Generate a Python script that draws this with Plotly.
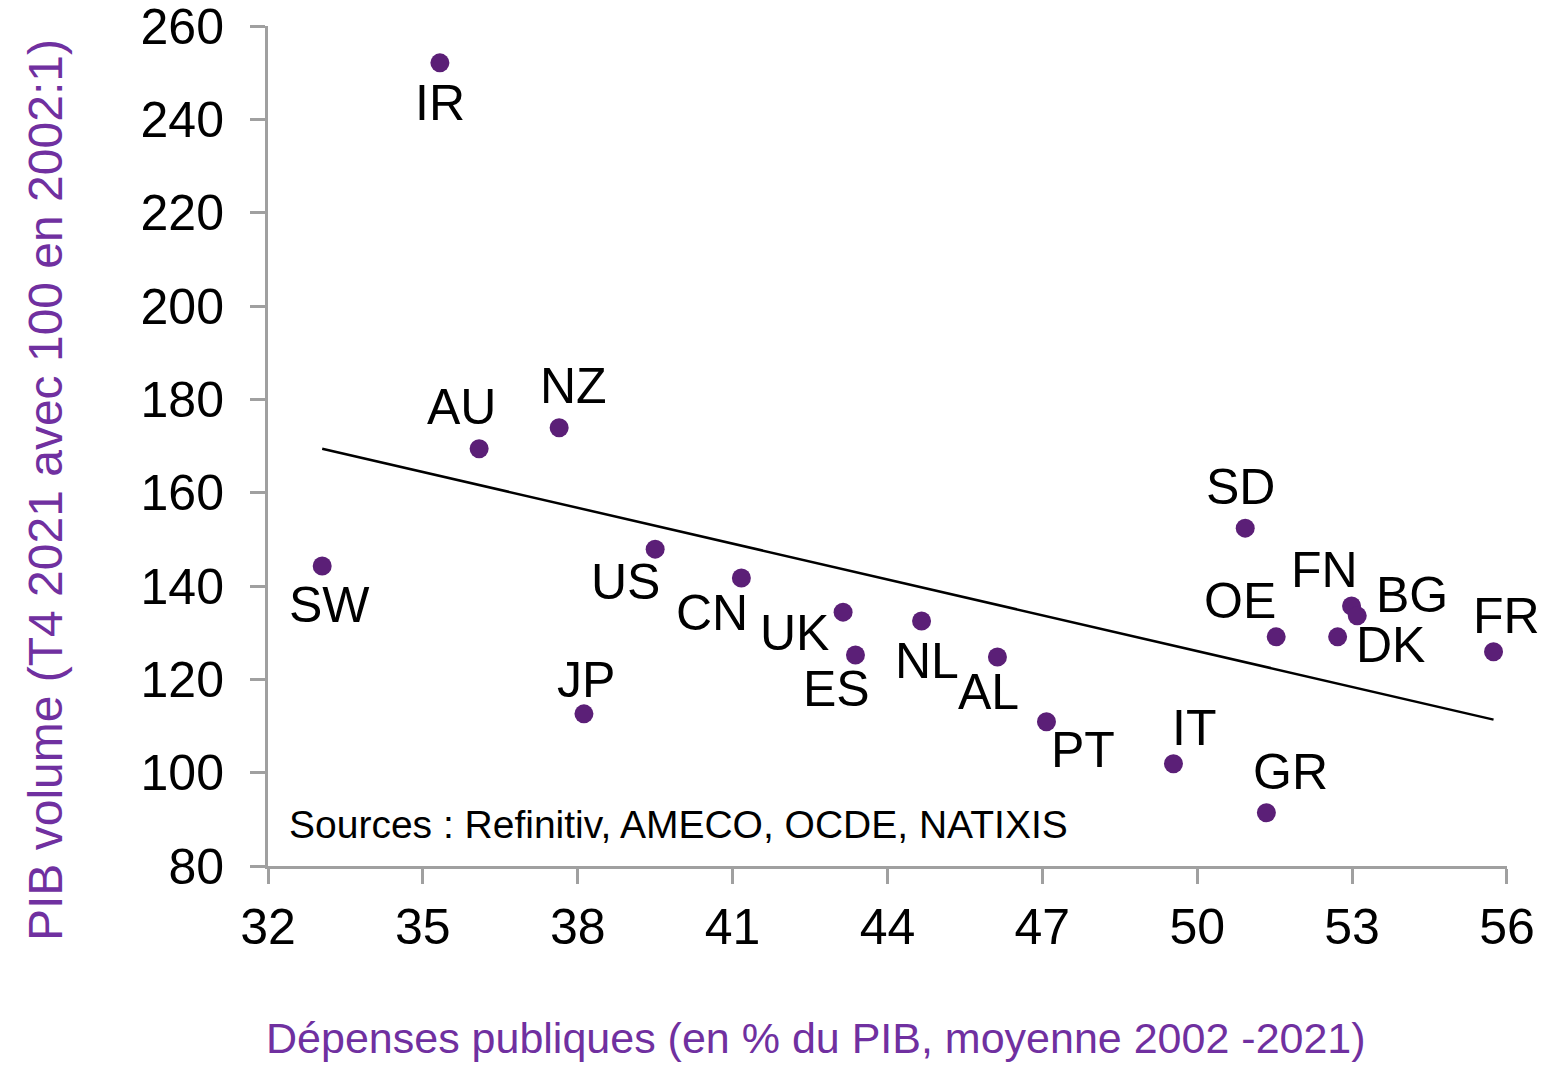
import numpy as np
import plotly.graph_objects as go

# Country codes, public spending (% of GDP, 2002-2021 average) and GDP volume index
countries = ["IR", "AU", "NZ", "SW", "US", "JP", "CN", "UK", "ES", "NL",
             "AL", "PT", "IT", "GR", "SD", "OE", "FN", "DK", "BG", "FR"]
spending = [35.33, 36.09, 37.64, 33.05, 39.50, 38.12, 41.17, 43.14, 43.38, 44.66,
            46.13, 47.08, 49.54, 51.34, 50.93, 51.53, 52.99, 52.72, 53.10, 55.74]
gdp_index = [252.1, 169.4, 173.9, 144.3, 147.9, 112.6, 141.7, 134.4, 125.2, 132.5,
             124.8, 110.9, 101.9, 91.4, 152.4, 129.1, 135.7, 129.1, 133.6, 125.9]

x_ticks = [32, 35, 38, 41, 44, 47, 50, 53, 56]
y_ticks = [80, 100, 120, 140, 160, 180, 200, 220, 240, 260]

# pixel offsets of each country label relative to its marker
label_shift = {
    "IR": (0, -40), "AU": (-18, 42), "NZ": (14, 42), "SW": (7, -39),
    "US": (-30, -33), "JP": (2, 34), "CN": (-29, -35), "UK": (-49, -21),
    "ES": (-19, -34), "NL": (5, -40), "AL": (-9, -35), "PT": (37, -28),
    "IT": (21, 36), "GR": (24, 41), "SD": (-5, 41), "OE": (-36, 36),
    "FN": (-27, 36), "DK": (53, -8), "BG": (55, 21), "FR": (13, 36),
}

FONT = "Liberation Sans, Arial, sans-serif"
POINT = "#5B1F77"
TITLE = "#7030A0"
AXIS = "#A0A0A0"

L, R, T, B = 268, 43, 26, 200
W, H = 1550, 1066
pw, ph = W - L - R, H - T - B

# linear trend fitted to the scatter
slope, intercept = np.polyfit(spending, gdp_index, 1)
trend_x = [min(spending), max(spending)]
trend_y = [slope * v + intercept for v in trend_x]

fig = go.Figure()
fig.add_trace(go.Scatter(
    x=trend_x, y=trend_y, mode="lines",
    line=dict(color="#000000", width=2.5), hoverinfo="skip", showlegend=False,
))
fig.add_trace(go.Scatter(
    x=spending, y=gdp_index, mode="markers", text=countries,
    marker=dict(color=POINT, size=19), showlegend=False,
))

for c, xv, yv in zip(countries, spending, gdp_index):
    dx, dy = label_shift[c]
    fig.add_annotation(
        x=xv, y=yv, text=c, showarrow=False, xshift=dx, yshift=dy,
        font=dict(family=FONT, size=50, color="#000000"),
    )

fig.add_annotation(
    x=0.015, y=0.05, xref="paper", yref="paper", xanchor="left", yanchor="middle",
    text="Sources : Refinitiv, AMECO, OCDE, NATIXIS", showarrow=False,
    font=dict(family=FONT, size=39, color="#000000"),
)

# axis titles, placed by pixel centre converted to paper fractions
fig.add_annotation(
    x=(816 - L) / pw, y=1 - (1038 - T) / ph, xref="paper", yref="paper",
    xanchor="center", yanchor="middle", showarrow=False,
    text="Dépenses publiques (en % du PIB, moyenne 2002 -2021)",
    font=dict(family=FONT, size=43, color=TITLE),
)
fig.add_annotation(
    x=(45 - L) / pw, y=1 - (490 - T) / ph, xref="paper", yref="paper",
    xanchor="center", yanchor="middle", showarrow=False, textangle=-90,
    text="PIB volume (T4 2021 avec 100 en 2002:1)",
    font=dict(family=FONT, size=48, color=TITLE),
)

axis_common = dict(
    showline=True, linecolor=AXIS, linewidth=3, mirror=False,
    ticks="outside", ticklen=15, tickwidth=3, tickcolor=AXIS,
    showgrid=False, zeroline=False, ticklabeloverflow="allow", automargin=False,
    tickfont=dict(family=FONT, size=50, color="#000000"),
)

fig.update_xaxes(
    range=[32, 56.001], tickvals=x_ticks, ticktext=[str(v) for v in x_ticks],
    ticklabelstandoff=0, **axis_common,
)
fig.update_yaxes(
    range=[80, 260.001], tickvals=y_ticks, ticktext=[str(v) for v in y_ticks],
    ticklabelstandoff=16, **axis_common,
)

fig.update_layout(
    width=W, height=H,
    margin=dict(l=L, r=R, t=T, b=B, autoexpand=False),
    paper_bgcolor="white", plot_bgcolor="white",
)

fig.write_html("out.html")
